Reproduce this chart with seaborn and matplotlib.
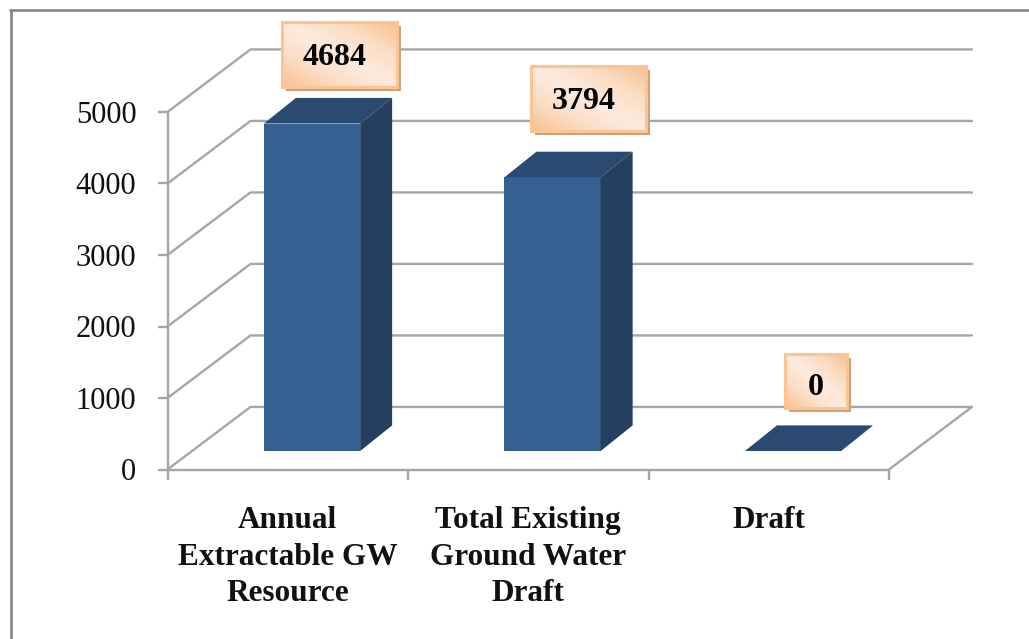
import numpy as np
import pandas as pd
import matplotlib
matplotlib.use("Agg")
import matplotlib.pyplot as plt
from matplotlib.lines import Line2D
from matplotlib.patches import Polygon, Rectangle
from matplotlib.colors import LinearSegmentedColormap
from matplotlib.transforms import Affine2D
import seaborn as sns

# --- data ---
CATEGORIES = ["Annual\nExtractable GW\nResource", "Total Existing\nGround Water\nDraft", "Draft"]
# drawn bar heights read against the axis (the printed labels do not quite agree with them)
BAR_HEIGHTS = [4580, 3828, 0]
LABEL_TEXTS = ["4684", "3794", "0"]
Y_TICKS = [0, 1000, 2000, 3000, 4000, 5000]

# --- style ---
W, H = 1029, 639
FRONT = "#376092"
TOP = "#2a4a72"
SIDE = "#243f60"
GRID = "#a6a6a6"
FRAME = "#868686"
SERIF = "Liberation Serif"

# front plane of the chart in pixels (left, right, top, bottom)
PLOT_BOX = (167.5, 889, 112, 469.5)
WALL_DX, WALL_DY = 0.345, 875      # depth of the floor, in data units
BAR_DX, BAR_DY = 0.133, 358        # depth of one bar, in data units
BAR_SHIFT = (24.3, 18.5)           # bars stand this far behind the front plane, pixels
# label boxes in pixels: left, top, right, bottom
LABEL_BOXES = [(282, 22, 397, 87), (531, 66, 646, 131), (785, 354, 847, 408)]
# where the text sits inside each box, axes fractions
LABEL_TEXT_POS = [(0.46, 0.45), (0.46, 0.45), (0.50, 0.38)]


def px_axes(fig, left, top, right, bottom, **kw):
    return fig.add_axes([left / W, 1 - bottom / H, (right - left) / W, (bottom - top) / H], **kw)


def draw_walls(ax):
    for v in Y_TICKS:
        ax.plot([-0.5, -0.5 + WALL_DX, 2.5 + WALL_DX], [v, v + WALL_DY, v + WALL_DY],
                color=GRID, lw=1.7, clip_on=False, zorder=1, solid_joinstyle="miter")
    ax.plot([2.5, 2.5 + WALL_DX], [0, WALL_DY], color=GRID, lw=1.7, clip_on=False, zorder=1)


def draw_bars(fig):
    left, right, top, bottom = PLOT_BOX
    dx, dy = BAR_SHIFT
    bar_ax = px_axes(fig, left + dx, top - dy, right + dx, bottom - dy)
    df = pd.DataFrame({"category": CATEGORIES, "value": BAR_HEIGHTS})
    sns.barplot(data=df, x="category", y="value", color=FRONT, saturation=1,
                width=0.4, linewidth=0, ax=bar_ax)
    bar_ax.set_xlim(-0.5, 2.5)
    bar_ax.set_ylim(0, 5000)
    bar_ax.axis("off")
    bar_ax.patch.set_alpha(0)
    for p in list(bar_ax.patches):
        x0, w, h = p.get_x(), p.get_width(), p.get_height()
        x1 = x0 + w
        bar_ax.add_patch(Polygon([(x0, h), (x1, h), (x1 + BAR_DX, h + BAR_DY), (x0 + BAR_DX, h + BAR_DY)],
                                 fc=TOP, lw=0, clip_on=False))
        bar_ax.add_patch(Polygon([(x1, 0), (x1, h), (x1 + BAR_DX, h + BAR_DY), (x1 + BAR_DX, BAR_DY)],
                                 fc=SIDE, lw=0, clip_on=False))


def draw_label(fig, box, text, text_pos):
    left, top, right, bottom = box
    # shadow first
    fig.add_artist(Rectangle((left + 4, H - bottom - 4), right - left, bottom - top,
                             transform=Affine2D().scale(1 / W, 1 / H) + fig.transFigure,
                             fc="#c9a17c", lw=0, zorder=3))
    lab = px_axes(fig, left, top, right, bottom, zorder=5)
    u, v = np.meshgrid(np.linspace(0, 1, 60), np.linspace(0, 1, 40))
    cmap = LinearSegmentedColormap.from_list("peach", ["#fdebdf", "#fbdcc2", "#fac090"])
    lab.imshow(np.abs(u - v), cmap=cmap, aspect="auto", extent=(0, 1, 0, 1), vmin=0, vmax=1)
    lab.set_xticks([])
    lab.set_yticks([])
    for s in lab.spines.values():
        s.set_color("#fbc494")
        s.set_linewidth(2.2)
    lab.text(text_pos[0], text_pos[1], text, ha="center", va="center", transform=lab.transAxes,
             family=SERIF, weight="bold", fontsize=23, color="black")


def main():
    sns.set_style("white")
    plt.rcParams["font.family"] = [SERIF, "DejaVu Serif"]

    fig = plt.figure(figsize=(W / 100, H / 100), dpi=100, facecolor="white")
    left, right, top, bottom = PLOT_BOX
    ax = px_axes(fig, left, top, right, bottom)
    ax.set_xlim(-0.5, 2.5)
    ax.set_ylim(0, 5000)
    ax.patch.set_alpha(0)

    draw_walls(ax)

    sns.despine(ax=ax)
    for name in ("left", "bottom"):
        ax.spines[name].set_color(GRID)
        ax.spines[name].set_linewidth(1.7)
    ax.set_yticks(Y_TICKS, labels=[str(v) for v in Y_TICKS])
    ax.set_xticks([-0.5, 0.5, 1.5, 2.5], labels=[])
    ax.set_xticks([0, 1, 2], labels=CATEGORIES, minor=True)
    ax.tick_params(axis="y", left=True, length=7, width=1.7, color=GRID, pad=15.5, labelsize=22, labelcolor="#111111")
    ax.tick_params(axis="x", which="major", bottom=True, length=7, width=1.7, color=GRID)
    ax.tick_params(axis="x", which="minor", bottom=False, length=0, pad=26.5)
    for t in ax.get_xticklabels(minor=True):
        t.set_fontweight("bold")
        t.set_fontsize(22.5)
        t.set_linespacing(1.34)
        t.set_color("#111111")

    draw_bars(fig)

    for box, text, text_pos in zip(LABEL_BOXES, LABEL_TEXTS, LABEL_TEXT_POS):
        draw_label(fig, box, text, text_pos)

    # outer frame, only top and left are inside the picture
    fig.add_artist(Line2D([10 / W, 1], [1 - 9.5 / H, 1 - 9.5 / H], color=FRAME, lw=1.9))
    fig.add_artist(Line2D([11 / W, 11 / W], [1 - 9.5 / H, 0], color=FRAME, lw=1.9))

    fig.savefig("out.png", dpi=100)


if __name__ == "__main__":
    main()
